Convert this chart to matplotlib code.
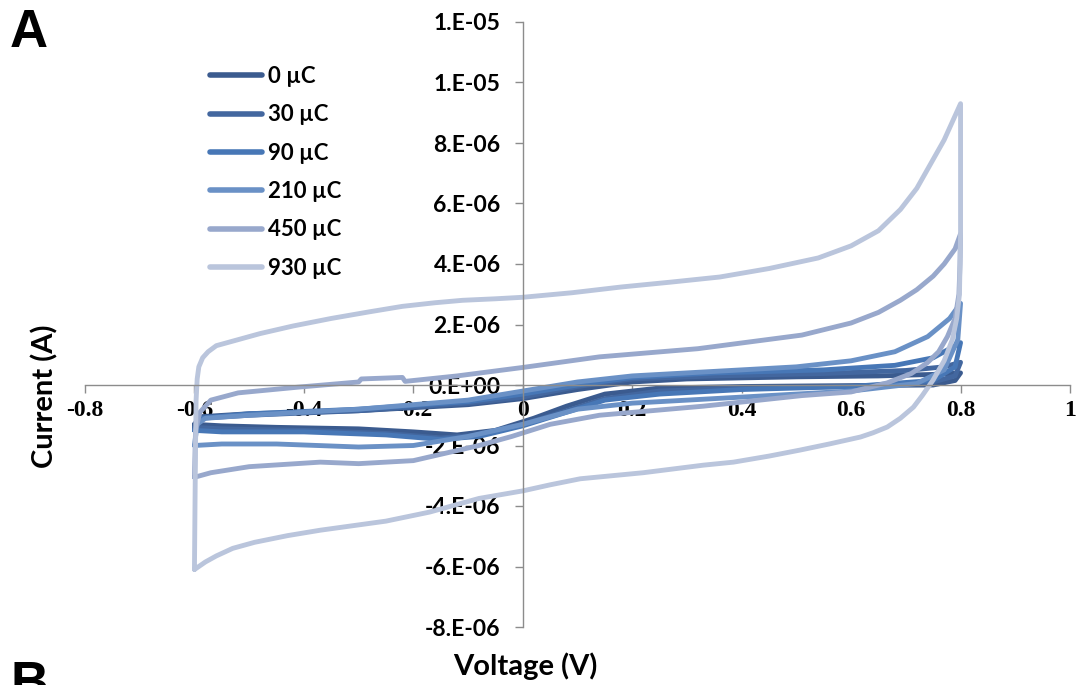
import matplotlib
matplotlib.use('Agg')
import matplotlib.pyplot as plt
from matplotlib.ticker import FixedLocator, FuncFormatter
import numpy as np

plt.rcParams['axes.unicode_minus'] = False

# --- data: cyclic voltammograms (V in volts, I in microamps) ---
labels = ['0 \u00b5C', '30 \u00b5C', '90 \u00b5C', '210 \u00b5C', '450 \u00b5C', '930 \u00b5C']
colors = ['#3b5b8f', '#43679f', '#4777b6', '#6a91c6', '#98a8cc', '#bac5dc']

v_0 = [-0.6, -0.59, -0.5, -0.3, -0.1, 0.0, 0.1, 0.2, 0.3, 0.5, 0.65, 0.75, 0.8,
       0.79, 0.75, 0.6, 0.4, 0.25, 0.15, 0.08, 0.02, -0.05, -0.12, -0.2, -0.3, -0.45, -0.55, -0.6]
i_0 = [-1.3, -1.05, -0.95, -0.85, -0.65, -0.45, -0.15, 0.1, 0.2, 0.27, 0.3, 0.35, 0.4,
       0.15, 0.0, -0.02, -0.05, -0.1, -0.3, -0.7, -1.1, -1.5, -1.65, -1.55, -1.45, -1.4, -1.35, -1.3]

v_30 = [-0.6, -0.59, -0.5, -0.3, -0.1, 0.0, 0.1, 0.2, 0.35, 0.55, 0.7, 0.77, 0.8,
        0.79, 0.74, 0.6, 0.4, 0.25, 0.15, 0.08, 0.0, -0.08, -0.15, -0.25, -0.4, -0.55, -0.6]
i_30 = [-1.4, -1.1, -1.0, -0.85, -0.6, -0.4, -0.05, 0.2, 0.3, 0.38, 0.48, 0.6, 0.75,
        0.3, 0.05, -0.05, -0.1, -0.2, -0.45, -0.85, -1.3, -1.65, -1.75, -1.6, -1.5, -1.45, -1.4]

v_90 = [-0.6, -0.59, -0.5, -0.3, -0.1, 0.0, 0.1, 0.2, 0.35, 0.55, 0.68, 0.75, 0.8,
        0.79, 0.75, 0.6, 0.4, 0.25, 0.15, 0.08, 0.0, -0.08, -0.15, -0.25, -0.4, -0.55, -0.6]
i_90 = [-1.5, -1.1, -0.95, -0.8, -0.55, -0.3, 0.0, 0.25, 0.4, 0.5, 0.65, 0.9, 1.4,
        0.6, 0.15, -0.05, -0.15, -0.3, -0.5, -0.9, -1.35, -1.7, -1.8, -1.65, -1.55, -1.55, -1.5]

v_210 = [-0.6, -0.595, -0.58, -0.5, -0.3, -0.1, 0.0, 0.1, 0.2, 0.35, 0.5, 0.6, 0.68, 0.74, 0.78, 0.8,
         0.795, 0.77, 0.72, 0.6, 0.4, 0.2, 0.1, 0.0, -0.1, -0.2, -0.3, -0.45, -0.55, -0.6]
i_210 = [-2.0, -1.3, -1.1, -1.0, -0.8, -0.5, -0.2, 0.1, 0.3, 0.45, 0.6, 0.8, 1.1, 1.6, 2.2, 2.7,
         1.5, 0.5, 0.05, -0.2, -0.4, -0.6, -0.8, -1.3, -1.7, -2.0, -2.05, -1.95, -1.95, -2.0]

v_450 = [-0.6, -0.598, -0.59, -0.57, -0.52, -0.41, -0.30, -0.295, -0.22, -0.215, -0.12, 0.0, 0.14,
         0.32, 0.51, 0.6, 0.65, 0.69, 0.72, 0.75, 0.77, 0.79, 0.8,
         0.799, 0.797, 0.79, 0.776, 0.76, 0.739, 0.71, 0.666, 0.6, 0.51, 0.33, 0.14, 0.05, -0.02,
         -0.08, -0.14, -0.2, -0.3, -0.37, -0.5, -0.57, -0.6]
i_450 = [-3.05, -1.5, -0.9, -0.5, -0.26, -0.07, 0.1, 0.2, 0.25, 0.12, 0.3, 0.58, 0.93,
         1.2, 1.65, 2.05, 2.4, 2.8, 3.15, 3.6, 4.0, 4.5, 5.0,
         4.0, 3.0, 2.2, 1.6, 1.1, 0.73, 0.38, 0.07, -0.23, -0.35, -0.7, -1.0, -1.3, -1.7,
         -2.0, -2.25, -2.5, -2.6, -2.55, -2.7, -2.9, -3.05]

v_930 = [-0.6, -0.599, -0.598, -0.597, -0.595, -0.592, -0.585, -0.575, -0.56, -0.52, -0.48, -0.42,
         -0.35, -0.28, -0.22, -0.16, -0.11, -0.05, 0.0, 0.09, 0.18, 0.27, 0.36, 0.45, 0.54, 0.6,
         0.65, 0.69, 0.72, 0.745, 0.77, 0.79, 0.8,
         0.8, 0.798, 0.793, 0.785, 0.77, 0.75, 0.73, 0.714, 0.69, 0.666, 0.64, 0.617, 0.56, 0.507,
         0.45, 0.385, 0.33, 0.22, 0.105, 0.05, 0.0, -0.08, -0.17, -0.25, -0.31, -0.37, -0.43, -0.49,
         -0.53, -0.56, -0.58, -0.6]
i_930 = [-6.1, -4.0, -2.0, -0.5, 0.2, 0.6, 0.9, 1.1, 1.3, 1.5, 1.7, 1.95,
         2.2, 2.42, 2.6, 2.72, 2.8, 2.85, 2.9, 3.05, 3.24, 3.4, 3.57, 3.85, 4.2, 4.6,
         5.1, 5.8, 6.5, 7.3, 8.1, 8.9, 9.3,
         5.0, 3.0, 2.2, 1.5, 0.8, 0.17, -0.35, -0.73, -1.1, -1.39, -1.58, -1.72, -1.95, -2.15,
         -2.35, -2.55, -2.65, -2.9, -3.1, -3.3, -3.5, -3.75, -4.2, -4.5, -4.65, -4.8, -4.98, -5.2,
         -5.4, -5.65, -5.85, -6.1]

voltages = [v_0, v_30, v_90, v_210, v_450, v_930]
currents = [i_0, i_30, i_90, i_210, i_450, i_930]

x_ticks = [-0.8, -0.6, -0.4, -0.2, 0, 0.2, 0.4, 0.6, 0.8, 1]
y_ticks = [-8e-6, -6e-6, -4e-6, -2e-6, 0, 2e-6, 4e-6, 6e-6, 8e-6, 1e-5, 1.2e-5]

# --- figure ---
fig = plt.figure(figsize=(10.81, 6.85), dpi=100)
ax = fig.add_axes([85 / 1081, 1 - 627 / 685, 985 / 1081, 605 / 685])

for v, i, c, lab in zip(voltages, currents, colors, labels):
    ax.plot(v, np.array(i) * 1e-6, color=c, lw=3.5, label=lab,
            solid_capstyle='round', solid_joinstyle='round')

ax.set_xlim(-0.8, 1.0)
ax.set_ylim(-8e-6, 1.2e-5)

for s in ['top', 'right']:
    ax.spines[s].set_visible(False)
ax.spines['left'].set_position(('data', 0))
ax.spines['bottom'].set_position(('data', 0))
for s in ['left', 'bottom']:
    ax.spines[s].set_color('#8c8c8c')
    ax.spines[s].set_linewidth(1.0)

ax.xaxis.set_major_locator(FixedLocator(x_ticks))
ax.yaxis.set_major_locator(FixedLocator(y_ticks))
ax.xaxis.set_major_formatter(FuncFormatter(lambda x, p: f'{x:g}'))
ax.yaxis.set_major_formatter(FuncFormatter(lambda y, p: f'{y:.0E}'.replace('E', '.E')))
ax.tick_params(axis='both', direction='out', length=6, color='#8c8c8c', width=1.0)
ax.tick_params(axis='x', pad=5)
ax.tick_params(axis='y', pad=10)

for t in ax.get_xticklabels():
    t.set_fontfamily('Liberation Serif')
    t.set_fontweight('bold')
    t.set_fontsize(17)
for t in ax.get_yticklabels():
    t.set_fontfamily('Lato')
    t.set_fontweight('bold')
    t.set_fontsize(16.5)

leg = ax.legend(loc='upper left', bbox_to_anchor=(210 / 1081, 1 - 66 / 685),
                bbox_transform=fig.transFigure, frameon=False, borderpad=0,
                borderaxespad=0, handlelength=2.35, handletextpad=0.28,
                labelspacing=0.78, prop={'family': 'Lato', 'weight': 'bold', 'size': 16})
for line in leg.get_lines():
    line.set_linewidth(4)

fig.text(45 / 1081, 1 - 396 / 685, 'Current (A)', rotation=90, ha='center', va='center',
         fontfamily='Lato', fontweight='bold', fontsize=21)
fig.text(525 / 1081, 1 - 666 / 685, 'Voltage (V)', ha='center', va='center',
         fontfamily='Lato', fontweight='bold', fontsize=21)

fig.text(10 / 1081, 1 - 8 / 685, 'A', ha='left', va='top',
         fontfamily='Liberation Sans', fontweight='bold', fontsize=38)
fig.text(10 / 1081, 1 - 660 / 685, 'B', ha='left', va='top',
         fontfamily='Liberation Sans', fontweight='bold', fontsize=38)

fig.savefig('out.png', dpi=100)
